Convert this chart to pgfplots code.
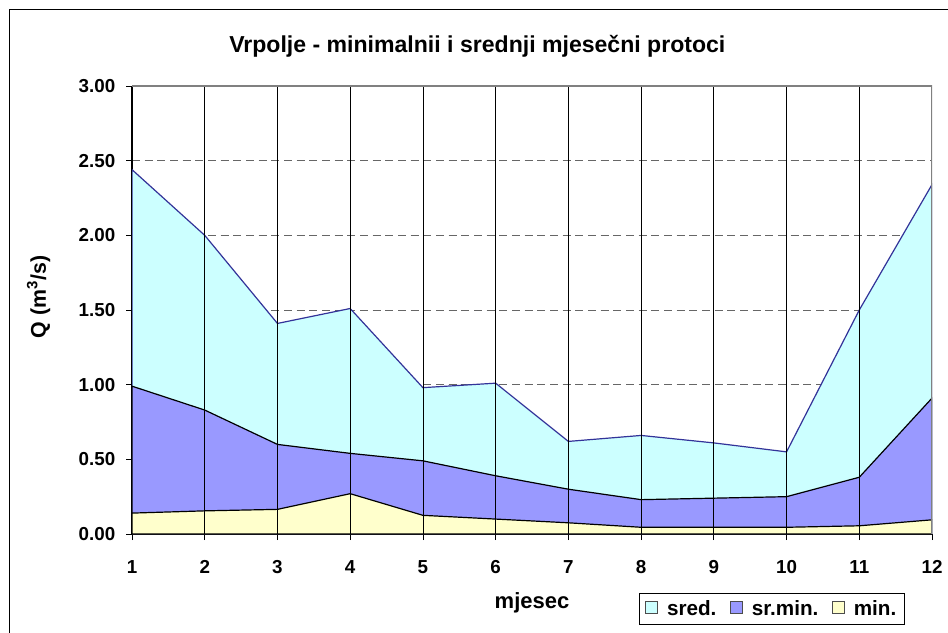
\documentclass[border=0pt]{standalone}
\usepackage{pgfplots}
\pgfplotsset{compat=1.18}
\usepackage{fontspec}
\setmainfont{Liberation Sans}
\definecolor{sredfill}{HTML}{CCFFFF}
\definecolor{sredline}{HTML}{333399}
\definecolor{srminfill}{HTML}{9999FF}
\definecolor{minfill}{HTML}{FFFFCC}
\begin{document}
\begin{tikzpicture}
\begin{axis}[
  at={(0pt,0pt)}, anchor=south west,
  scale only axis, width=600pt, height=336pt,
  xmin=1, xmax=12, ymin=0, ymax=3,
  xtick={1,...,12}, ytick={0,0.5,...,3},
  axis lines*=left,
  axis line style={black, line width=0.8pt},
  tick align=outside, major tick length=4.5pt,
  tick style={black, line width=0.6pt},
  ymajorgrids,
  major grid style={gray!80!black, dash pattern=on 6pt off 3.5pt, line width=0.6pt},
  /pgf/number format/assume math mode=true,
  ticklabel style={font=\bfseries\fontsize{14.1}{16}\selectfont},
  xticklabel style={yshift=-12pt},
  yticklabel style={xshift=-4.5pt, /pgf/number format/.cd, fixed, fixed zerofill, precision=2},
  area legend,
  legend columns=3,
  legend style={at={(0.8,-0.1674)}, anchor=center, draw=black, line width=0.6pt,
    font=\bfseries\fontsize{15.5}{18}\selectfont, inner xsep=4pt, inner ysep=3.5pt,
    /tikz/every odd column/.append style={column sep=5pt},
    /tikz/every even column/.append style={column sep=8pt}},
  legend image code/.code={\draw[#1, line width=0.5pt, draw=black!70] (0pt,-3.5pt) rectangle (9pt,5.5pt);},
]
\addplot[fill=sredfill, draw=sredline, line width=0.9pt] coordinates {
 (1,2.44) (2,2.00) (3,1.41) (4,1.51) (5,0.98) (6,1.01) (7,0.62) (8,0.66) (9,0.61) (10,0.55) (11,1.50) (12,2.34)} \closedcycle;
\addlegendentry{sred.}
\addplot[fill=srminfill, draw=black, line width=0.9pt] coordinates {
 (1,0.99) (2,0.83) (3,0.60) (4,0.54) (5,0.49) (6,0.39) (7,0.30) (8,0.23) (9,0.24) (10,0.25) (11,0.38) (12,0.91)} \closedcycle;
\addlegendentry{sr.min.}
\addplot[fill=minfill, draw=black, line width=0.9pt] coordinates {
 (1,0.14) (2,0.155) (3,0.165) (4,0.27) (5,0.125) (6,0.10) (7,0.075) (8,0.045) (9,0.045) (10,0.045) (11,0.055) (12,0.095)} \closedcycle;
\addlegendentry{min.}
\pgfplotsinvokeforeach{2,...,11}{\draw[black, line width=0.6pt] (axis cs:#1,0) -- (axis cs:#1,3);}
\draw[gray, line width=0.9pt] (axis cs:1,3) -- (axis cs:12,3) -- (axis cs:12,0);
\end{axis}
\node[font=\bfseries\fontsize{17.3}{20}\selectfont] at (259pt,366pt) {Vrpolje - minimalnii i srednji mjesečni protoci};
\node[font=\bfseries\fontsize{16}{18}\selectfont, rotate=90] at (-70pt,177.75pt) {Q (m\textsuperscript{3}/s)};
\node[font=\bfseries\fontsize{16.5}{18}\selectfont] at (300pt,-51.75pt) {mjesec};
\draw[black, line width=1.2pt] (-91.9pt,-80pt) -- (-91.9pt,393.4pt) -- (620pt,393.4pt);
\pgfresetboundingbox
\path (-99pt,-73.5pt) rectangle (612pt,400.5pt);
\end{tikzpicture}
\end{document}
